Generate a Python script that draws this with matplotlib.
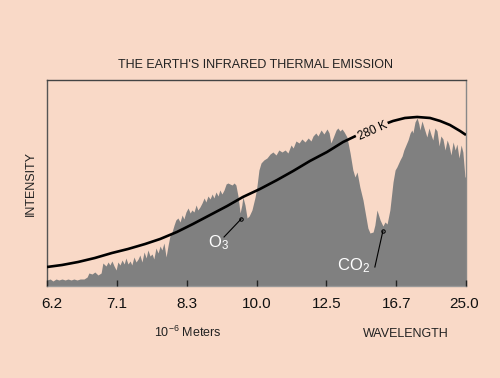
import matplotlib
matplotlib.use("Agg")
import matplotlib.pyplot as plt
from matplotlib.transforms import ScaledTranslation

plt.rcParams['font.family'] = ['Liberation Sans', 'DejaVu Sans']
plt.rcParams['mathtext.fontset'] = 'custom'
plt.rcParams['mathtext.rm'] = 'Liberation Sans'
plt.rcParams['mathtext.default'] = 'regular'

# ---- data (wavenumber in cm^-1, intensity in arbitrary units) ----
spec_wn = [1600, 1591, 1583, 1574, 1566, 1557, 1548, 1540, 1531, 1523, 1514, 1505,
           1494, 1485, 1480, 1471, 1463, 1454, 1445, 1440, 1431, 1425, 1420, 1414,
           1408, 1402, 1397, 1391, 1385, 1379, 1374, 1368, 1362, 1357, 1351, 1345,
           1339, 1334, 1328, 1322, 1316, 1311, 1305, 1299, 1294, 1288, 1282, 1276,
           1271, 1265, 1259, 1253, 1248, 1242, 1236, 1231, 1225, 1219, 1213, 1208,
           1202, 1196, 1190, 1185, 1179, 1173, 1168, 1162, 1156, 1150, 1145, 1139,
           1133, 1127, 1122, 1116, 1110, 1105, 1099, 1093, 1087, 1082, 1076, 1070,
           1064, 1059, 1053, 1047, 1042, 1039, 1033, 1027, 1021, 1013, 1004, 999,
           993, 987, 979, 970, 961, 953, 944, 936, 927, 918, 910, 901, 895, 887,
           878, 870, 861, 852, 844, 838, 830, 824, 815, 807, 798, 792, 787, 781,
           772, 767, 761, 755, 749, 741, 732, 724, 718, 712, 704, 695, 686, 681,
           675, 666, 661, 655, 646, 638, 632, 626, 618, 609, 603, 598, 589, 583,
           578, 572, 566, 560, 555, 552, 546, 540, 535, 532, 526, 520, 512, 506,
           500, 495, 489, 483, 477, 472, 466, 460, 454, 449, 443, 437, 431, 426,
           420, 414, 409, 403, 400]
spec_int = [6, 7, 5, 7, 6, 7, 6, 7, 6, 7, 6, 7,
            7, 9, 13, 12, 14, 11, 13, 23, 20, 24, 21, 25,
            20, 16, 24, 21, 26, 22, 28, 22, 25, 21, 29, 24,
            27, 31, 24, 34, 28, 36, 30, 32, 27, 38, 33, 40,
            36, 43, 29, 41, 50, 54, 61, 66, 68, 64, 71, 67,
            74, 78, 73, 76, 74, 81, 76, 79, 83, 88, 84, 90,
            87, 92, 88, 94, 90, 96, 92, 96, 102, 103, 102, 101,
            103, 101, 90, 73, 81, 89, 81, 68, 70, 76, 89, 99,
            116, 123, 126, 128, 132, 134, 131, 136, 134, 136, 133, 141, 138, 145,
            143, 147, 144, 148, 145, 150, 153, 150, 156, 152, 157, 153, 143, 148,
            156, 158, 155, 157, 154, 149, 133, 116, 109, 114, 99, 86, 68, 58,
            53, 54, 61, 76, 66, 60, 64, 62, 76, 104, 116, 119, 126, 130,
            136, 141, 146, 153, 156, 153, 164, 168, 162, 156, 165, 158, 149, 158,
            151, 146, 158, 155, 140, 150, 147, 136, 146, 141, 131, 144, 136, 142,
            128, 141, 134, 109, 109]

bb_wn = [1600, 1557, 1511, 1463, 1414, 1368, 1319, 1276, 1228, 1182, 1133, 1084,
         1039, 990, 941, 895, 847, 798, 752, 704, 666, 632, 609, 575, 540, 503,
         474, 446, 417, 400]
bb_int = [19, 21, 24, 28, 33, 37, 42, 47, 54, 62, 71, 80,
          89, 97, 106, 115, 125, 134, 144, 152, 158, 162, 165, 168, 169, 168,
          165, 161, 155, 151]

tick_wn = [1600, 1400, 1200, 1000, 800, 600, 400]
tick_labels = ['6.2', '7.1', '8.3', '10.0', '12.5', '16.7', '25.0']

BG = '#F9D9C7'
FILL = '#808080'

fig = plt.figure(figsize=(5.0, 3.78), dpi=100, facecolor=BG)
ax = fig.add_axes([0.094, 0.2434, 0.838, 0.545])
ax.set_facecolor(BG)

ax.fill_between(spec_wn, 0, spec_int, color=FILL, linewidth=0, zorder=2)
ax.plot(bb_wn, bb_int, color='black', lw=1.9, zorder=3, solid_capstyle='butt',
        solid_joinstyle='round')

ax.set_xlim(1600, 400)
ax.set_ylim(0, 206)
ax.set_xticks(tick_wn)
ax.set_xticklabels(tick_labels, fontsize=11, color='#111111')
ax.set_yticks([])
ax.tick_params(axis='x', direction='in', length=4, width=1, color='#222222', pad=8)
for t in ax.xaxis.get_major_ticks():
    t.tick1line.set_zorder(5)
ax.set_axisbelow(False)

labels = ax.get_xticklabels()
labels[0].set_transform(labels[0].get_transform() + ScaledTranslation(5 / 100, 0, fig.dpi_scale_trans))
labels[-1].set_transform(labels[-1].get_transform() + ScaledTranslation(-2 / 100, 0, fig.dpi_scale_trans))

for s, c in [('left', '#555555'), ('top', '#444444'), ('right', '#888888'), ('bottom', '#999999')]:
    ax.spines[s].set_color(c)
    ax.spines[s].set_linewidth(1.0)

# 280 K label on the curve
ax.text(668, 155, '280 K', rotation=24, fontsize=8.5, ha='center', va='center',
        zorder=4, bbox=dict(boxstyle='square,pad=0.15', fc=BG, ec='none'))

# O3 annotation
ax.plot([1093, 1044], [49, 67], color='black', lw=0.8, zorder=4)
ax.plot([1044], [67], marker='o', ms=2.5, mfc='none', mec='black', mew=0.7, zorder=4)
ax.text(1110, 43, r'O$_3$', color='white', fontsize=12, ha='center', va='center', zorder=4)

# CO2 annotation
ax.plot([661, 638], [19, 55], color='black', lw=0.8, zorder=4)
ax.plot([638], [55], marker='o', ms=2.5, mfc='none', mec='black', mew=0.7, zorder=4)
ax.text(722, 20, r'CO$_2$', color='white', fontsize=12, ha='center', va='center', zorder=4)

fig.text(0.512, 1 - 64.5 / 378, "THE EARTH'S INFRARED THERMAL EMISSION",
         fontsize=9, ha='center', va='center', color='#222222')
fig.text(0.062, 1 - 183 / 378, 'INTENSITY', rotation=90, fontsize=9,
         ha='center', va='center', color='#222222')
fig.text(0.376, 1 - 332 / 378, r'10$^{-6}$ Meters', fontsize=9,
         ha='center', va='center', color='#222222')
fig.text(0.812, 1 - 334 / 378, 'WAVELENGTH', fontsize=9,
         ha='center', va='center', color='#222222')

fig.savefig('out.png', dpi=100, facecolor=BG)
